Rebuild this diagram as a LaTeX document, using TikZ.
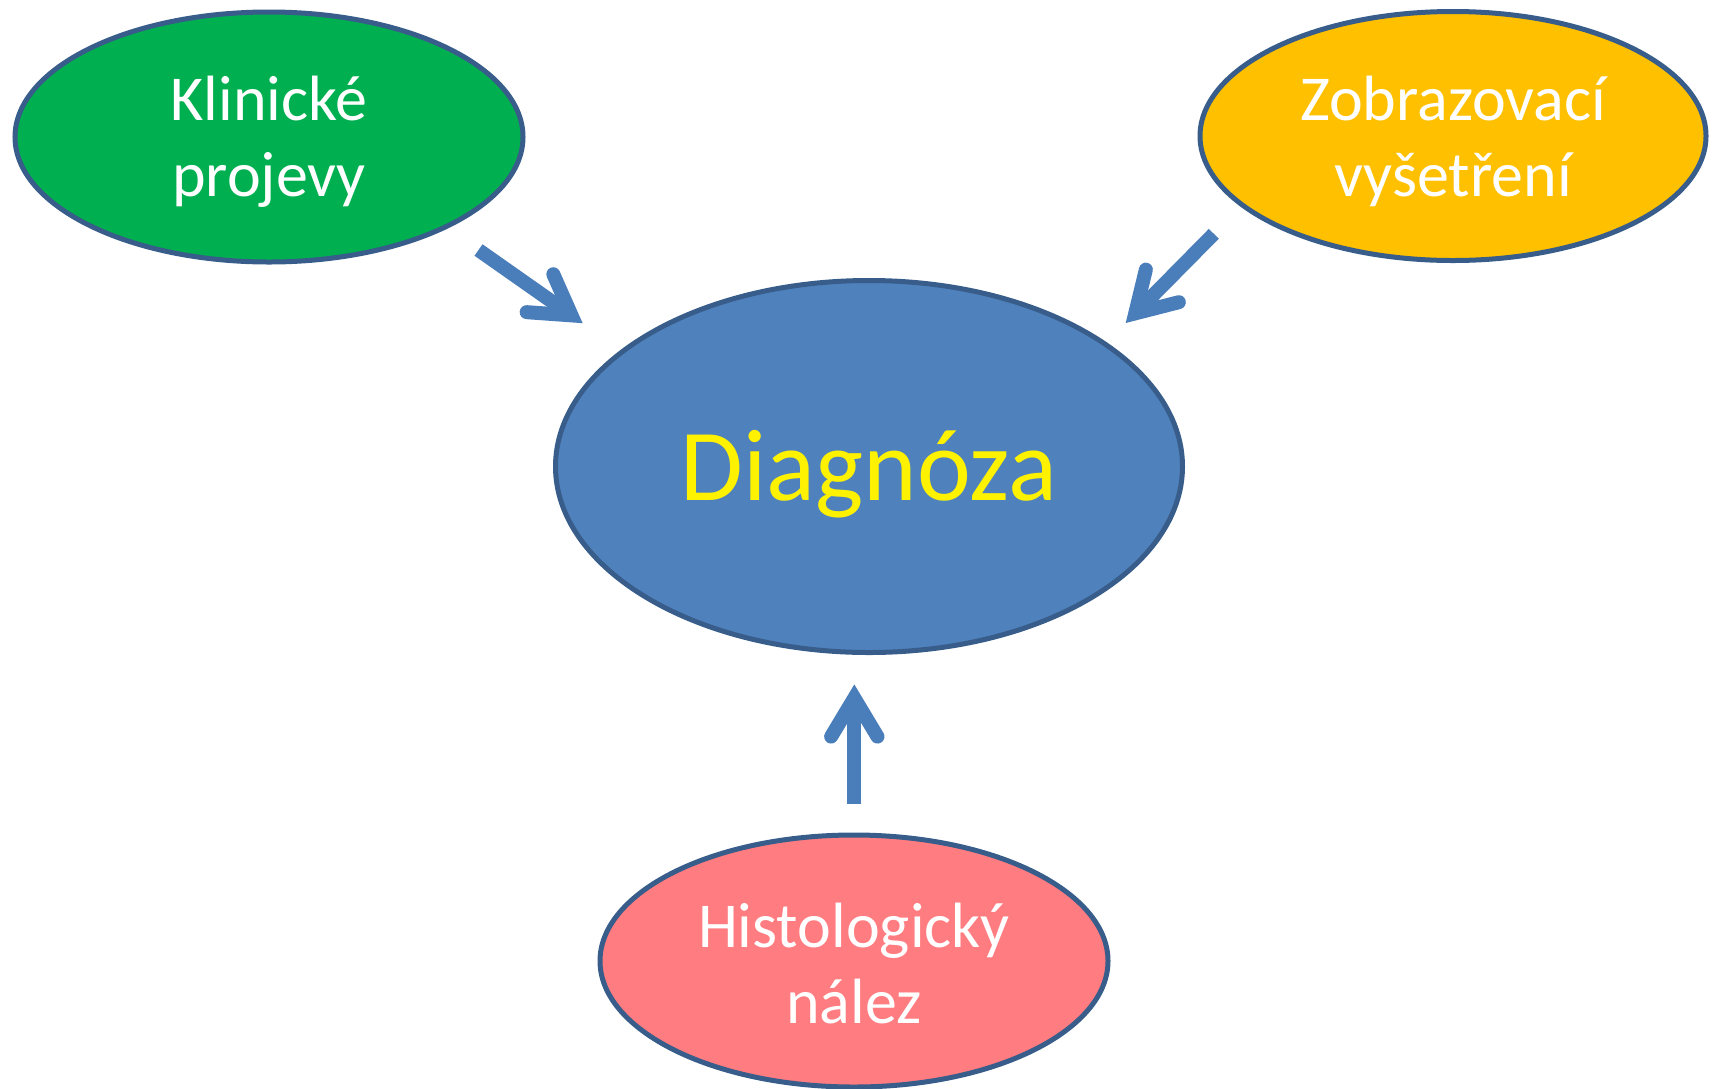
\documentclass[tikz,border=0pt]{standalone}
\usepackage{fontspec}
\setmainfont{Carlito}
\usetikzlibrary{shapes.geometric,calc}
\definecolor{outl}{HTML}{385D8A}
\definecolor{kgreen}{HTML}{00B050}
\definecolor{zyellow}{HTML}{FFC000}
\definecolor{dblue}{HTML}{4F81BD}
\definecolor{hpink}{HTML}{FF7C80}
\definecolor{arrowblue}{HTML}{4A7EBB}
\tikzset{
  oval/.style={ellipse, draw=outl, line width=5pt, inner sep=0pt},
  smalltext/.style={text=white, align=center, font=\fontsize{64}{76}\selectfont},
  shaft/.style={draw=arrowblue, line width=14pt, line cap=butt},
  head/.style={draw=arrowblue, line width=14pt, line cap=round, line join=miter}
}
\begin{document}
\begin{tikzpicture}[x=1pt,y=-1pt]
\useasboundingbox (0,0) rectangle (1713,1088);
\node[oval, fill=kgreen, minimum width=508pt, minimum height=250pt] (K) at (269,137) {};
\node[oval, fill=zyellow, minimum width=506pt, minimum height=249pt] (Z) at (1453,136) {};
\node[oval, fill=dblue, minimum width=627pt, minimum height=372pt] (D) at (869,466.5) {};
\node[oval, fill=hpink, minimum width=508pt, minimum height=252pt] (H) at (854,961) {};
\node[smalltext] (Kt) at ([yshift=-5pt]K.center) {Klinické\\projevy};
\node[smalltext] (Zt) at ([yshift=-5pt]Z.center) {Zobrazovací\\vyšetření};
\node[smalltext] (Ht) at ([yshift=-2pt]H.center) {Histologický\\nález};
\node[text=yellow, font=\fontsize{102}{120}\selectfont] (Dt) at ([yshift=-8pt]D.center) {Diagnóza};
% arrow 1
\coordinate (k1) at (478.5,250);
\coordinate (k2) at (583,323.4);
\coordinate (kv) at ($(k2)!14pt!(k1)$);
\coordinate (kb1) at ($(kv)!45pt!31:(k1)$);
\coordinate (kb2) at ($(kv)!45pt!-31:(k1)$);
\draw[shaft] (k1) -- (kv);
\draw[head] (kb1) -- (kv) -- (kb2);
% arrow 2
\coordinate (z1) at (1213.8,233.8);
\coordinate (z2) at (1125.4,323.3);
\coordinate (zv) at ($(z2)!14pt!(z1)$);
\coordinate (zb1) at ($(zv)!45pt!31:(z1)$);
\coordinate (zb2) at ($(zv)!45pt!-31:(z1)$);
\draw[shaft] (z1) -- (zv);
\draw[head] (zb1) -- (zv) -- (zb2);
% arrow 3
\coordinate (h1) at (854.3,804);
\coordinate (h2) at (854.3,684);
\coordinate (hv) at ($(h2)!14pt!(h1)$);
\coordinate (hb1) at ($(hv)!45pt!31:(h1)$);
\coordinate (hb2) at ($(hv)!45pt!-31:(h1)$);
\draw[shaft] (h1) -- (hv);
\draw[head] (hb1) -- (hv) -- (hb2);
\end{tikzpicture}
\end{document}
